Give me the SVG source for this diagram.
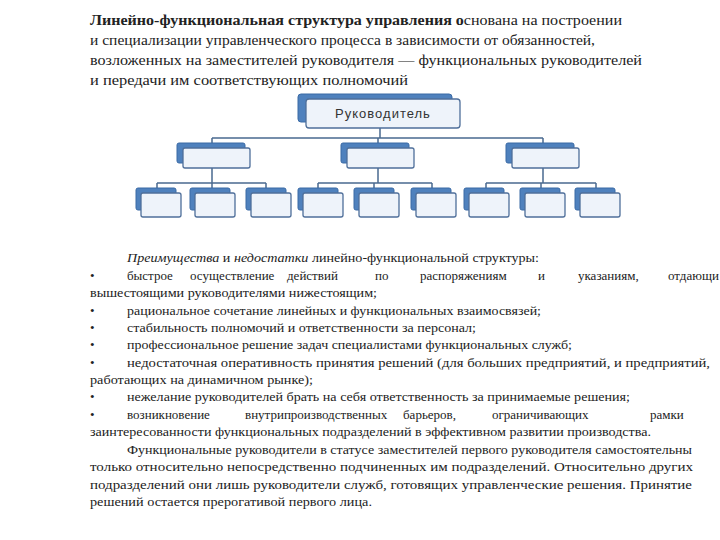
<svg xmlns="http://www.w3.org/2000/svg" width="720" height="540" viewBox="0 0 720 540">
<style>
.h{font-family:"Liberation Serif","Times New Roman","DejaVu Serif",serif;font-size:14.5px;fill:#222}
.b{font-family:"Liberation Serif","Times New Roman","DejaVu Serif",serif;font-size:13px;fill:#222}
.bk{fill:#4f81bd;stroke:#3a6aa5;stroke-width:1}
.fr{fill:#eef3fa;stroke:#4f6f9a;stroke-width:1.3}
.ln{stroke:#4a6a90;stroke-width:1.5;fill:none}
</style>
<rect width="720" height="540" fill="#fff"/>
<text class="h" x="90" y="25" textLength="532" lengthAdjust="spacingAndGlyphs"><tspan font-weight="bold">Линейно-функциональная структура управления о</tspan>снована на построении</text>
<text class="h" x="90" y="45" textLength="505" lengthAdjust="spacingAndGlyphs">и специализации управленческого процесса в зависимости от обязанностей,</text>
<text class="h" x="90" y="65" textLength="552" lengthAdjust="spacingAndGlyphs">возложенных на заместителей руководителя — функциональных руководителей</text>
<text class="h" x="90" y="85" textLength="318" lengthAdjust="spacingAndGlyphs">и передачи им соответствующих полномочий</text>
<g id="connectors">
<path class="ln" d="M380 128V138M212 138H543M212 138V148M378 138V148M543 138V148"/>
<path class="ln" d="M212 168V183M157 183H266M157 183V192M212 183V192M266 183V192"/>
<path class="ln" d="M378 168V183M318 183H432M318 183V192M374 183V192M432 183V192"/>
<path class="ln" d="M543 168V183M486 183H596M486 183V192M541 183V192M596 183V192"/>
</g>
<g id="top"><rect class="bk" x="298" y="94" width="154" height="28" rx="3"/><rect class="fr" x="306" y="99" width="154" height="29" rx="3"/><text x="383" y="118" text-anchor="middle" font-family="'Liberation Sans',sans-serif" font-size="13" letter-spacing="1" fill="#333">Руководитель</text></g>
<g id="m1"><rect class="bk" x="177" y="143" width="68" height="20" rx="2"/><rect class="fr" x="183" y="148" width="67" height="20" rx="2"/></g>
<g id="m2"><rect class="bk" x="341" y="143" width="68" height="20" rx="2"/><rect class="fr" x="347" y="148" width="67" height="20" rx="2"/></g>
<g id="m3"><rect class="bk" x="506" y="143" width="68" height="20" rx="2"/><rect class="fr" x="512" y="148" width="67" height="20" rx="2"/></g>
<g id="c1"><rect class="bk" x="136" y="188" width="40" height="22" rx="2"/><rect class="fr" x="141" y="193" width="40" height="24" rx="2"/></g>
<g id="c2"><rect class="bk" x="190" y="188" width="40" height="22" rx="2"/><rect class="fr" x="195" y="193" width="40" height="24" rx="2"/></g>
<g id="c3"><rect class="bk" x="246" y="188" width="40" height="22" rx="2"/><rect class="fr" x="251" y="193" width="40" height="24" rx="2"/></g>
<g id="c4"><rect class="bk" x="298" y="188" width="40" height="22" rx="2"/><rect class="fr" x="303" y="193" width="40" height="24" rx="2"/></g>
<g id="c5"><rect class="bk" x="354" y="188" width="40" height="22" rx="2"/><rect class="fr" x="359" y="193" width="40" height="24" rx="2"/></g>
<g id="c6"><rect class="bk" x="411" y="188" width="40" height="22" rx="2"/><rect class="fr" x="416" y="193" width="40" height="24" rx="2"/></g>
<g id="c7"><rect class="bk" x="464" y="188" width="40" height="22" rx="2"/><rect class="fr" x="469" y="193" width="40" height="24" rx="2"/></g>
<g id="c8"><rect class="bk" x="520" y="188" width="40" height="22" rx="2"/><rect class="fr" x="525" y="193" width="40" height="24" rx="2"/></g>
<g id="c9"><rect class="bk" x="575" y="188" width="40" height="22" rx="2"/><rect class="fr" x="580" y="193" width="40" height="24" rx="2"/></g>
<text class="b" x="127" y="262" textLength="412" lengthAdjust="spacingAndGlyphs"><tspan font-style="italic">Преимущества</tspan> и <tspan font-style="italic">недостатки</tspan> линейно-функциональной структуры:</text>
<text class="b" x="90" y="280">•</text>
<text class="b" y="280"><tspan x="127">быстрое</tspan><tspan x="190">осуществление</tspan><tspan x="287">действий</tspan><tspan x="375">по</tspan><tspan x="420">распоряжениям</tspan><tspan x="538">и</tspan><tspan x="578">указаниям,</tspan><tspan x="668">отдающи</tspan></text>
<text class="b" x="90" y="297" textLength="287" lengthAdjust="spacingAndGlyphs">вышестоящими руководителями нижестоящим;</text>
<text class="b" x="90" y="315">•</text><text class="b" x="127" y="315" textLength="414" lengthAdjust="spacingAndGlyphs">рациональное сочетание линейных и функциональных взаимосвязей;</text>
<text class="b" x="90" y="332">•</text><text class="b" x="127" y="332" textLength="349" lengthAdjust="spacingAndGlyphs">стабильность полномочий и ответственности за персонал;</text>
<text class="b" x="90" y="349">•</text><text class="b" x="127" y="349" textLength="445" lengthAdjust="spacingAndGlyphs">профессиональное решение задач специалистами функциональных служб;</text>
<text class="b" x="90" y="367">•</text><text class="b" x="127" y="367" textLength="583" lengthAdjust="spacingAndGlyphs">недостаточная оперативность принятия решений (для больших предприятий, и предприятий,</text>
<text class="b" x="90" y="384" textLength="223" lengthAdjust="spacingAndGlyphs">работающих на динамичном рынке);</text>
<text class="b" x="90" y="401">•</text><text class="b" x="127" y="401" textLength="503" lengthAdjust="spacingAndGlyphs">нежелание руководителей брать на себя ответственность за принимаемые решения;</text>
<text class="b" x="90" y="419">•</text>
<text class="b" y="419"><tspan x="127">возникновение</tspan><tspan x="245">внутрипроизводственных</tspan><tspan x="403">барьеров,</tspan><tspan x="492">ограничивающих</tspan><tspan x="650">рамки</tspan></text>
<text class="b" x="90" y="436" textLength="561" lengthAdjust="spacingAndGlyphs">заинтересованности функциональных подразделений в эффективном развитии производства.</text>
<text class="b" x="127" y="454" textLength="565" lengthAdjust="spacingAndGlyphs">Функциональные руководители в статусе заместителей первого руководителя самостоятельны</text>
<text class="b" x="90" y="471" textLength="603" lengthAdjust="spacingAndGlyphs">только относительно непосредственно подчиненных им  подразделений. Относительно других</text>
<text class="b" x="90" y="489" textLength="602" lengthAdjust="spacingAndGlyphs">подразделений они лишь руководители служб, готовящих управленческие решения. Принятие</text>
<text class="b" x="90" y="506" textLength="282" lengthAdjust="spacingAndGlyphs">решений остается прерогативой первого лица.</text>
</svg>
